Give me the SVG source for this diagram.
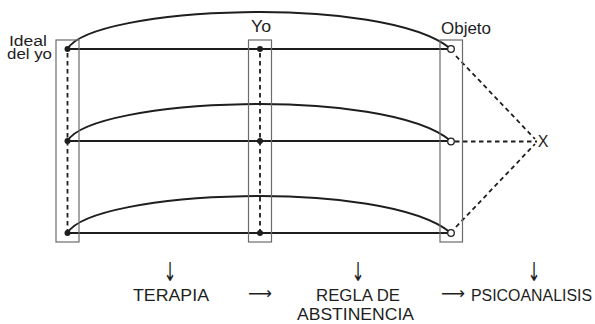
<svg xmlns="http://www.w3.org/2000/svg" width="595" height="324" viewBox="0 0 595 324">
<style>
.box{fill:none;stroke:#6b6b6b;stroke-width:1.2}
.ln{fill:none;stroke:#1e1e1e;stroke-width:1.8}
.arc{fill:none;stroke:#1e1e1e;stroke-width:2}
.dash{fill:none;stroke:#1e1e1e;stroke-width:1.8;stroke-dasharray:4.5 3.5}
.dot{fill:#1e1e1e}
.open{fill:#fff;stroke:#1e1e1e;stroke-width:1.3}
.t{font-family:"Liberation Sans",Arial,"DejaVu Sans",sans-serif;fill:#1e1e1e}
.lab{font-size:16px}
.big{font-size:17px}
.ar{font-family:"DejaVu Sans","Liberation Sans",sans-serif;fill:#1e1e1e;font-size:17px}
.dn{font-family:"DejaVu Sans","Liberation Sans",sans-serif;fill:#1e1e1e;font-size:26px}
</style>
<rect width="595" height="324" fill="#fff"/>
<g id="connectors">
<path class="arc" d="M67.5,49 C92,6 385,-6 451,49"/>
<path class="arc" d="M67.5,141 C92,98 385,86 451,141"/>
<path class="arc" d="M67.5,233 C92,190 385,178 451,233"/>
<line class="ln" x1="67.5" y1="49" x2="447.5" y2="49"/>
<line class="ln" x1="67.5" y1="141" x2="447.5" y2="141"/>
<line class="ln" x1="67.5" y1="233" x2="447.5" y2="233"/>
<line class="dash" x1="67.5" y1="53" x2="67.5" y2="233"/>
<line class="dash" x1="260" y1="53" x2="260" y2="233"/>
<line class="dash" x1="456" y1="56" x2="535" y2="139"/>
<line class="dash" x1="455" y1="141.5" x2="537" y2="141.5"/>
<line class="dash" x1="456" y1="227" x2="535" y2="144"/>
</g>
<g id="ideal-del-yo">
<rect class="box" x="56" y="40" width="23" height="202"/>
<circle class="dot" cx="67.5" cy="49" r="3"/>
<circle class="dot" cx="67.5" cy="141" r="3"/>
<circle class="dot" cx="67.5" cy="233" r="3"/>
<text class="t" font-size="15.5" x="9" y="45.5" textLength="38" lengthAdjust="spacingAndGlyphs">Ideal</text>
<text class="t" font-size="15.5" x="7" y="59" textLength="45" lengthAdjust="spacingAndGlyphs">del yo</text>
</g>
<g id="yo">
<rect class="box" x="248.5" y="40" width="23" height="202"/>
<circle class="dot" cx="260" cy="49" r="3"/>
<circle class="dot" cx="260" cy="141" r="3"/>
<circle class="dot" cx="260" cy="233" r="3"/>
<text class="t lab" x="251" y="32" textLength="20" lengthAdjust="spacingAndGlyphs">Yo</text>
</g>
<g id="objeto">
<rect class="box" x="440" y="40" width="22.5" height="202"/>
<circle class="open" cx="451" cy="49" r="3.3"/>
<circle class="open" cx="451" cy="141.5" r="3.3"/>
<circle class="open" cx="451" cy="233" r="3.3"/>
<text class="t lab" x="441" y="34" textLength="50" lengthAdjust="spacingAndGlyphs">Objeto</text>
</g>
<g id="x">
<text class="t lab" x="543" y="147" text-anchor="middle">X</text>
</g>
<g id="terapia">
<text class="dn" transform="translate(170,281) scale(0.6,1)" text-anchor="middle">↓</text>
<text class="t big" x="133" y="301" textLength="76" lengthAdjust="spacingAndGlyphs">TERAPIA</text>
</g>
<g id="regla">
<text class="dn" transform="translate(358,281) scale(0.6,1)" text-anchor="middle">↓</text>
<text class="t big" x="316" y="301" textLength="84" lengthAdjust="spacingAndGlyphs">REGLA DE</text>
<text class="t big" x="297" y="320" textLength="117" lengthAdjust="spacingAndGlyphs">ABSTINENCIA</text>
</g>
<g id="psicoanalisis">
<text class="dn" transform="translate(534,281) scale(0.6,1)" text-anchor="middle">↓</text>
<text class="t" font-size="16" x="471" y="301" textLength="121" lengthAdjust="spacingAndGlyphs">PSICOANALISIS</text>
</g>
<g id="flow-arrows">
<text class="ar" x="248" y="299" textLength="24" lengthAdjust="spacingAndGlyphs">⟶</text>
<text class="ar" x="441" y="299" textLength="24" lengthAdjust="spacingAndGlyphs">⟶</text>
</g>
</svg>
